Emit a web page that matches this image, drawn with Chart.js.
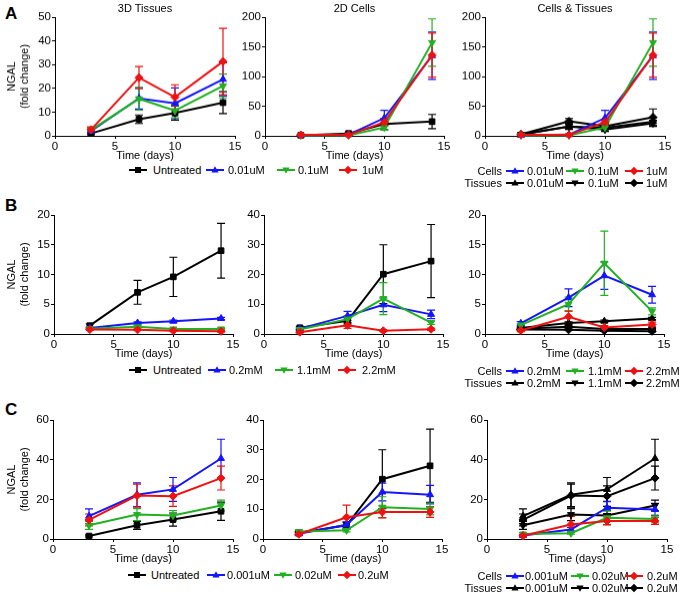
<!DOCTYPE html>
<html>
<head>
<meta charset="utf-8">
<script src="https://cdn.jsdelivr.net/npm/chart.js@4.4.1/dist/chart.umd.min.js"></script>
<style>
body { margin: 0; background: #fff; font-family: "Liberation Sans", Arial, sans-serif; color: #000; }
#fig { position: relative; width: 682px; height: 596px; overflow: hidden; }
#fig canvas { position: absolute; }
#fig svg { position: absolute; overflow: visible; }
.title { position: absolute; width: 160px; text-align: center; font-size: 11px; line-height: 12px; }
.letter { position: absolute; font-size: 17px; line-height: 17px; font-weight: bold; }
.leg { position: absolute; font-size: 11px; line-height: 12px; white-space: nowrap; }
</style>
</head>
<body>
<div id="fig"></div>
<script>
// time points (days)
var days = [3, 7, 10, 14];

// row A - 3D tissues
var tisA_untr = [1.0, 7.0, 9.6, 14.0],   tisA_untr_err = [0.5, 1.8, 3.0, 4.6];
var tisA_001  = [2.0, 15.8, 13.7, 23.8], tisA_001_err  = [0.8, 4.5, 6.5, 7.0];
var tisA_01   = [2.5, 15.6, 10.6, 21.0], tisA_01_err   = [1.0, 4.8, 3.0, 5.0];
var tisA_1    = [2.6, 24.5, 16.3, 31.3], tisA_1_err    = [1.2, 4.7, 5.2, 14.0];
// row A - 2D cells
var celA_untr = [1.0, 4.0, 20.0, 24.0],  celA_untr_err = [0.5, 1.5, 9.5, 12.0];
var celA_001  = [1.0, 2.0, 30.0, 135.0], celA_001_err  = [0.5, 1.0, 13.0, 40.0];
var celA_01   = [1.0, 1.0, 14.0, 157.0], celA_01_err   = [0.5, 0.5, 4.0, 40.0];
var celA_1    = [1.5, 1.5, 23.0, 136.0], celA_1_err    = [0.5, 0.5, 5.0, 37.0];

// row B - 3D tissues
var tisB_untr = [1.4, 7.0, 9.6, 14.0],   tisB_untr_err = [0.3, 2.0, 3.3, 4.6];
var tisB_02   = [1.0, 1.85, 2.15, 2.6],  tisB_02_err   = [0.1, 0.2, 0.2, 0.2];
var tisB_11   = [0.9, 1.2, 0.85, 0.85],  tisB_11_err   = [0.1, 0.2, 0.1, 0.1];
var tisB_22   = [0.75, 0.7, 0.55, 0.45], tisB_22_err   = [0.1, 0.1, 0.1, 0.1];
// row B - 2D cells
var celB_untr = [2.1, 4.4, 20.1, 24.5],  celB_untr_err = [0.5, 1.0, 9.9, 12.3];
var celB_02   = [1.8, 6.1, 9.8, 6.6],    celB_02_err   = [0.3, 1.5, 2.3, 1.4];
var celB_11   = [1.5, 5.0, 11.9, 3.8],   celB_11_err   = [0.3, 1.2, 5.4, 0.6];
var celB_22   = [0.6, 2.9, 1.1, 1.6],    celB_22_err   = [0.2, 1.0, 0.3, 0.4];

// row C - 3D tissues
var tisC_untr = [1.5, 6.9, 9.8, 14.0],   tisC_untr_err = [0.5, 2.0, 3.3, 4.6];
var tisC_0001 = [11.5, 22.3, 25.0, 40.6], tisC_0001_err = [3.7, 6.0, 6.0, 9.7];
var tisC_002  = [6.9, 12.3, 11.8, 16.9], tisC_002_err  = [2.0, 3.0, 2.5, 2.7];
var tisC_02   = [9.6, 21.9, 21.6, 30.7], tisC_02_err   = [3.0, 5.8, 5.2, 6.0];
// row C - 2D cells
var celC_untr = [2.0, 4.6, 20.1, 24.6],  celC_untr_err = [0.5, 1.0, 9.9, 12.3];
var celC_0001 = [1.8, 4.8, 15.8, 14.9],  celC_0001_err = [0.4, 1.0, 3.0, 3.1];
var celC_002  = [2.5, 2.9, 10.7, 10.1],  celC_002_err  = [0.6, 0.5, 3.5, 2.0];
var celC_02   = [1.6, 7.3, 9.1, 9.1],    celC_02_err   = [0.5, 4.1, 2.0, 1.8];

var labelsA = ['Untreated', '0.01uM', '0.1uM', '1uM'];
var labelsB = ['Untreated', '0.2mM', '1.1mM', '2.2mM'];
var labelsC = ['Untreated', '0.001uM', '0.02uM', '0.2uM'];
var titles = ['3D Tissues', '2D Cells', 'Cells & Tissues'];

var BLACK = '#000000', BLUE = '#1414ff', GREEN = '#22b022', RED = '#ee1111';
var FONT = '"Liberation Sans", Arial, sans-serif';

Chart.defaults.font.family = FONT;
Chart.defaults.color = '#000';

var fig = document.getElementById('fig');

// vertical error bars, drawn under the markers
var errorBars = {
    id: 'errorBars',
    beforeDatasetsDraw: function(chart) {
        var ctx = chart.ctx, xs = chart.scales.x, ys = chart.scales.y;
        chart.data.datasets.forEach(function(ds) {
            if (!ds.err) return;
            ctx.save();
            ctx.strokeStyle = ds.borderColor;
            ctx.lineWidth = 1.2;
            ds.data.forEach(function(pt, j) {
                var x = xs.getPixelForValue(pt.x);
                var y1 = ys.getPixelForValue(pt.y + ds.err[j]);
                var y2 = ys.getPixelForValue(Math.max(0, pt.y - ds.err[j]));
                ctx.beginPath();
                ctx.moveTo(x, y1); ctx.lineTo(x, y2);
                ctx.moveTo(x - 4, y1); ctx.lineTo(x + 4, y1);
                ctx.moveTo(x - 4, y2); ctx.lineTo(x + 4, y2);
                ctx.stroke();
            });
            ctx.restore();
        });
    }
};

function series(vals, err, color, shape) {
    return { vals: vals, err: err, color: color, shape: shape };
}

function makePanel(p) {
    var yw = p.yTitle ? p.left : 32;
    var cl = p.left - yw;
    var ct = p.top - 10;
    var cw = p.right + 10 - cl;
    var ch = p.bottom - ct + 27;
    var cv = document.createElement('canvas');
    cv.width = cw; cv.height = ch;
    cv.style.left = cl + 'px'; cv.style.top = ct + 'px';
    cv.style.width = cw + 'px'; cv.style.height = ch + 'px';
    fig.appendChild(cv);

    var n = p.series.length;
    var datasets = p.series.map(function(s, i) {
        return {
            data: days.map(function(d, k) { return { x: d, y: s.vals[k] }; }),
            err: s.err,
            borderColor: s.color,
            backgroundColor: s.color,
            borderWidth: 2,
            pointStyle: s.shape === 'down' ? 'triangle' : s.shape,
            pointRotation: s.shape === 'down' ? 180 : 0,
            pointRadius: 4,
            pointBorderWidth: 1,
            order: n - i,
            clip: false
        };
    });

    var tickFont = { size: 11.5, family: FONT };
    new Chart(cv, {
        type: 'line',
        data: { datasets: datasets },
        options: {
            responsive: false,
            animation: false,
            layout: { padding: { left: 0, right: 10, top: 10, bottom: 0 } },
            plugins: { legend: { display: false }, tooltip: { enabled: false } },
            scales: {
                x: {
                    type: 'linear', min: 0, max: 15,
                    ticks: { stepSize: 5, font: tickFont, padding: 1, maxRotation: 0, color: '#000' },
                    grid: { drawOnChartArea: false, tickLength: 3, color: '#000' },
                    border: { color: '#000', width: 1 },
                    title: { display: true, text: 'Time (days)', color: '#000', font: { size: 11, family: FONT }, padding: 0 },
                    afterFit: function(s) { s.height = 27; s.paddingLeft = 0; s.paddingRight = 0; }
                },
                y: {
                    type: 'linear', min: 0, max: p.ymax,
                    ticks: { stepSize: p.ystep, font: tickFont, padding: 1, color: '#000' },
                    grid: { drawOnChartArea: false, tickLength: 3, color: '#000' },
                    border: { color: '#000', width: 1 },
                    title: {
                        display: !!p.yTitle, text: ['NGAL', '(fold change)'], color: '#000',
                        font: { size: 11, family: FONT, lineHeight: 1.15 }, padding: { top: 6, bottom: 0 }
                    },
                    afterFit: function(s) { s.width = yw; s.paddingTop = 0; s.paddingBottom = 0; }
                }
            }
        },
        plugins: [errorBars]
    });
}

function addText(cls, text, left, top, extra) {
    var d = document.createElement('div');
    d.className = cls;
    d.textContent = text;
    d.style.left = left + 'px';
    d.style.top = top + 'px';
    if (extra) for (var k in extra) d.style[k] = extra[k];
    fig.appendChild(d);
}

var shapesSvg = {
    rect: '<rect x="6" y="3" width="6" height="6"/>',
    triangle: '<polygon points="9,2.2 12.6,8.6 5.4,8.6"/>',
    down: '<polygon points="9,9.8 12.6,3.4 5.4,3.4"/>',
    rectRot: '<polygon points="9,1.8 13.2,6 9,10.2 4.8,6"/>'
};

// legend entry: line with marker centred on cx, label starting at tx
function addLegend(cx, cy, shape, color, label, tx) {
    var svg = '<svg width="18" height="12" style="left:' + (cx - 9) + 'px;top:' + (cy - 6) + 'px" fill="' + color + '">' +
        '<line x1="0" y1="6" x2="18" y2="6" stroke="' + color + '" stroke-width="2"/>' + shapesSvg[shape] + '</svg>';
    var holder = document.createElement('div');
    holder.innerHTML = svg;
    fig.appendChild(holder.firstChild);
    addText('leg', label, tx, cy - 6);
}

var shapes = ['rect', 'triangle', 'down', 'rectRot'];
var colors = [BLACK, BLUE, GREEN, RED];

var rows = [
    { letter: 'A', letterTop: 5, top: 17, bottom: 135.5, cols: [[55, 235], [265, 444], [485, 665]],
      y1: [50, 10], y2: [200, 50], y3: [200, 50], legY: 170, labels: labelsA,
      tis: [[tisA_untr, tisA_untr_err], [tisA_001, tisA_001_err], [tisA_01, tisA_01_err], [tisA_1, tisA_1_err]],
      cel: [[celA_untr, celA_untr_err], [celA_001, celA_001_err], [celA_01, celA_01_err], [celA_1, celA_1_err]],
      legX: [[138, 153], [215, 228], [286, 298], [348, 362]], leg3: [[515, 527], [575, 588], [634, 646]] },
    { letter: 'B', letterTop: 197, top: 215, bottom: 334, cols: [[54, 233], [264, 443], [485, 664]],
      y1: [20, 5], y2: [40, 10], y3: [20, 5], legY: 370, labels: labelsB,
      tis: [[tisB_untr, tisB_untr_err], [tisB_02, tisB_02_err], [tisB_11, tisB_11_err], [tisB_22, tisB_22_err]],
      cel: [[celB_untr, celB_untr_err], [celB_02, celB_02_err], [celB_11, celB_11_err], [celB_22, celB_22_err]],
      legX: [[138, 153], [217, 229], [284, 297], [347, 362]], leg3: [[515, 527], [575, 588], [634, 646]] },
    { letter: 'C', letterTop: 401, top: 420, bottom: 539, cols: [[53, 233], [263, 442], [487, 667]],
      y1: [60, 20], y2: [40, 10], y3: [60, 20], legY: 575, labels: labelsC,
      tis: [[tisC_untr, tisC_untr_err], [tisC_0001, tisC_0001_err], [tisC_002, tisC_002_err], [tisC_02, tisC_02_err]],
      cel: [[celC_untr, celC_untr_err], [celC_0001, celC_0001_err], [celC_002, celC_002_err], [celC_02, celC_02_err]],
      legX: [[137, 151], [216, 227], [283, 295], [347, 358]], leg3: [[515, 525], [580, 592], [634, 647]] }
];

rows.forEach(function(r, ri) {
    addText('letter', r.letter, 5, r.letterTop);
    // 3D tissues
    makePanel({ left: r.cols[0][0], right: r.cols[0][1], top: r.top, bottom: r.bottom,
        ymax: r.y1[0], ystep: r.y1[1], yTitle: true,
        series: r.tis.map(function(t, i) { return series(t[0], t[1], colors[i], shapes[i]); }) });
    // 2D cells
    makePanel({ left: r.cols[1][0], right: r.cols[1][1], top: r.top, bottom: r.bottom,
        ymax: r.y2[0], ystep: r.y2[1],
        series: r.cel.map(function(t, i) { return series(t[0], t[1], colors[i], shapes[i]); }) });
    // cells & tissues: treated tissues in black, treated cells in colour
    var both = [];
    for (var i = 1; i < 4; i++) both.push(series(r.tis[i][0], r.tis[i][1], BLACK, shapes[i]));
    for (var j = 1; j < 4; j++) both.push(series(r.cel[j][0], r.cel[j][1], colors[j], shapes[j]));
    makePanel({ left: r.cols[2][0], right: r.cols[2][1], top: r.top, bottom: r.bottom,
        ymax: r.y3[0], ystep: r.y3[1], series: both });

    if (ri === 0) {
        for (var c = 0; c < 3; c++) {
            addText('title', titles[c], (r.cols[c][0] + r.cols[c][1]) / 2 - 80, 2);
        }
    }

    // legend under columns 1-2
    for (var k = 0; k < 4; k++) {
        addLegend(r.legX[k][0], r.legY, shapes[k], colors[k], r.labels[k], r.legX[k][1]);
    }
    // two-row legend under column 3
    var y1 = r.legY + 1, y2 = r.legY + 13;
    addText('leg', 'Cells', 402, y1 - 6, { width: '100px', textAlign: 'right' });
    addText('leg', 'Tissues', 402, y2 - 6, { width: '100px', textAlign: 'right' });
    for (var m = 0; m < 3; m++) {
        addLegend(r.leg3[m][0], y1, shapes[m + 1], colors[m + 1], r.labels[m + 1], r.leg3[m][1]);
        addLegend(r.leg3[m][0], y2, shapes[m + 1], BLACK, r.labels[m + 1], r.leg3[m][1]);
    }
});
</script>
</body>
</html>
